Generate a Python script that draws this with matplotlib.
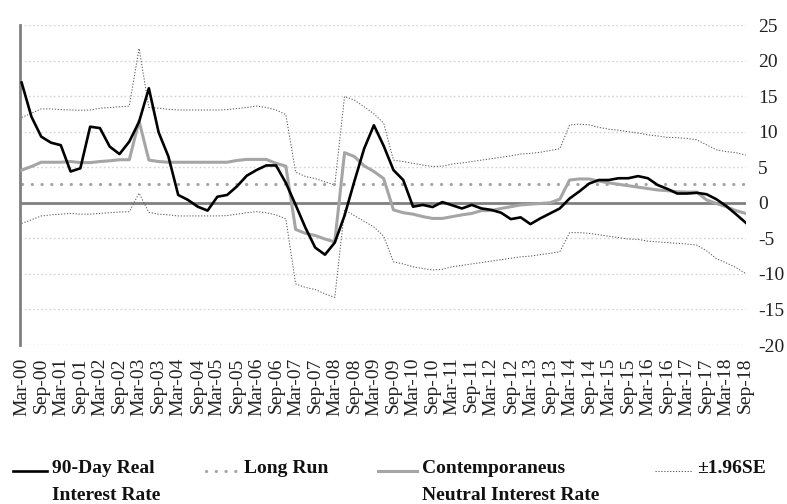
import matplotlib
matplotlib.use("Agg")
import matplotlib.pyplot as plt
from matplotlib.lines import Line2D

plt.rcParams['font.family'] = ['Liberation Serif', 'DejaVu Serif']
plt.rcParams['axes.unicode_minus'] = False

# quarterly, Mar-00 .. Sep-18
tick_labels = [f"{m}-{y:02d}" for y in range(0, 19) for m in ("Mar", "Sep")]

real_rate = [16.9, 12.1, 9.3, 8.45, 8.1, 4.4, 4.85, 10.7, 10.5, 7.9,
             6.85, 8.6, 11.4, 16.1, 9.9, 6.5, 1.1, 0.4, -0.55, -1.1,
             0.85, 1.1, 2.3, 3.8, 4.6, 5.25, 5.25, 2.8, -0.3, -3.5,
             -6.3, -7.3, -5.6, -1.8, 3.0, 7.6, 10.9, 8.0, 4.6, 3.2,
             -0.55, -0.3, -0.6, 0.1, -0.35, -0.8, -0.3, -0.8, -1.0, -1.4,
             -2.3, -2.05, -3.0, -2.2, -1.5, -0.8, 0.6, 1.6, 2.7, 3.2,
             3.2, 3.45, 3.45, 3.75, 3.45, 2.5, 1.95, 1.3, 1.3, 1.4,
             1.2, 0.5, -0.45, -1.6, -2.8]

neutral = [4.6, 5.1, 5.7, 5.7, 5.7, 5.8, 5.65, 5.65, 5.8, 5.9,
           6.05, 6.05, 11.5, 6.0, 5.8, 5.7, 5.7, 5.7, 5.7, 5.7,
           5.7, 5.7, 5.95, 6.1, 6.1, 6.1, 5.55, 5.15, -3.75, -4.3,
           -4.6, -5.1, -5.5, 7.05, 6.5, 5.2, 4.4, 3.4, -1.0, -1.4,
           -1.6, -1.95, -2.2, -2.2, -1.95, -1.7, -1.5, -1.1, -1.1, -0.8,
           -0.55, -0.3, -0.2, -0.1, 0.0, 0.5, 3.2, 3.35, 3.35, 3.05,
           2.8, 2.6, 2.4, 2.2, 2.0, 1.8, 1.7, 1.55, 1.5, 1.5,
           0.4, -0.1, -0.55, -1.1, -1.5]

upper_se = [12.0, 12.6, 13.2, 13.2, 13.1, 13.05, 13.0, 13.05, 13.3, 13.4,
            13.5, 13.6, 21.7, 13.4, 13.3, 13.15, 13.05, 13.05, 13.05, 13.05,
            13.05, 13.1, 13.25, 13.4, 13.6, 13.4, 13.05, 12.4, 4.3, 3.7,
            3.4, 2.95, 2.5, 14.95, 14.45, 13.5, 12.5, 11.2, 6.0, 5.8,
            5.55, 5.3, 5.1, 5.15, 5.45, 5.6, 5.8, 6.0, 6.2, 6.4,
            6.6, 6.85, 6.95, 7.1, 7.35, 7.6, 10.95, 11.05, 10.95, 10.6,
            10.35, 10.2, 10.0, 9.8, 9.55, 9.4, 9.2, 9.15, 9.05, 8.85,
            8.15, 7.45, 7.2, 7.05, 6.7]

lower_se = [-2.9, -2.4, -1.85, -1.7, -1.6, -1.5, -1.6, -1.6, -1.5, -1.4,
            -1.3, -1.25, 1.35, -1.35, -1.6, -1.7, -1.85, -1.85, -1.85, -1.85,
            -1.85, -1.8, -1.6, -1.4, -1.25, -1.4, -1.7, -2.25, -11.4, -11.9,
            -12.2, -12.8, -13.3, -1.0, -1.8, -2.6, -3.4, -4.7, -8.3, -8.6,
            -9.0, -9.25, -9.45, -9.35, -9.0, -8.8, -8.6, -8.4, -8.2, -8.0,
            -7.8, -7.6, -7.5, -7.3, -7.1, -6.9, -4.2, -4.2, -4.3, -4.5,
            -4.7, -4.9, -5.1, -5.15, -5.4, -5.5, -5.6, -5.7, -5.8, -5.95,
            -6.75, -7.85, -8.45, -9.1, -9.95]

long_run_level = 2.6
long_run = [long_run_level] * len(real_rate)

x = list(range(len(real_rate)))

BLACK = '#000000'
GRAY = '#a5a5a5'
AXGRAY = '#808080'
SEGRAY = '#5e5e5e'

fig = plt.figure(figsize=(7.87, 5.04), dpi=100)
ax = fig.add_axes([19.7 / 787, 1 - 345 / 504, 726 / 787, 320 / 504])

ax.set_xlim(-0.2, len(x) - 1)
ax.set_ylim(-20, 25)
ax.set_yticks(range(-20, 30, 5))
ax.yaxis.grid(True, color='#d4d4d4', linestyle=(0, (1.2, 1.8)), linewidth=1.0)
ax.set_axisbelow(True)

ax.axhline(0, color=AXGRAY, linewidth=2.0, zorder=1.5)

ax.plot(x, upper_se, color=SEGRAY, linewidth=0.75, linestyle=(0, (1.2, 1.6)), zorder=2)
ax.plot(x, lower_se, color=SEGRAY, linewidth=0.75, linestyle=(0, (1.2, 1.6)), zorder=2)
ax.plot(x, long_run, color=GRAY, linewidth=2.3, linestyle=(0, (0.05, 3.0)),
        dash_capstyle='round', zorder=2.5)
ax.plot(x, neutral, color=GRAY, linewidth=2.2, zorder=3)
ax.plot(x, real_rate, color=BLACK, linewidth=1.9, zorder=4)

for s in ('top', 'right', 'bottom'):
    ax.spines[s].set_visible(False)
ax.spines['left'].set_color(AXGRAY)
ax.spines['left'].set_linewidth(2.0)

ax.yaxis.tick_right()
ax.tick_params(axis='y', length=0, pad=9, labelsize=14, colors='#222222')
ax.set_xticks(x[::2])
ax.set_xticklabels(tick_labels, rotation=90, fontsize=14, color='#222222')
ax.tick_params(axis='x', length=0, pad=9)

# legend, laid out by hand as in the original
leg_y = 1 - 471 / 504
items = [
    (12.7, 46.7, dict(color=BLACK, linewidth=1.9), ["90-Day Real", "Interest Rate"]),
    (206, 239, dict(color=GRAY, linewidth=2.3, linestyle=(0, (0.05, 3.0)),
                    dash_capstyle='round'), ["Long Run"]),
    (378, 417, dict(color=GRAY, linewidth=2.2), ["Contemporaneus", "Neutral Interest Rate"]),
    (655, 692, dict(color=SEGRAY, linewidth=0.75, linestyle=(0, (1.2, 1.6))), ["\u00b11.96SE"]),
]
for x0, x1, style, lines in items:
    fig.add_artist(Line2D([x0 / 787, x1 / 787], [leg_y, leg_y],
                          transform=fig.transFigure, **style))
    for k, line in enumerate(lines):
        fig.text((x1 + 5) / 787, 1 - (473 + 27 * k) / 504, line, fontsize=14,
                 fontweight='bold', ha='left', va='baseline', color='#111111')

fig.savefig('out.png', dpi=100)
